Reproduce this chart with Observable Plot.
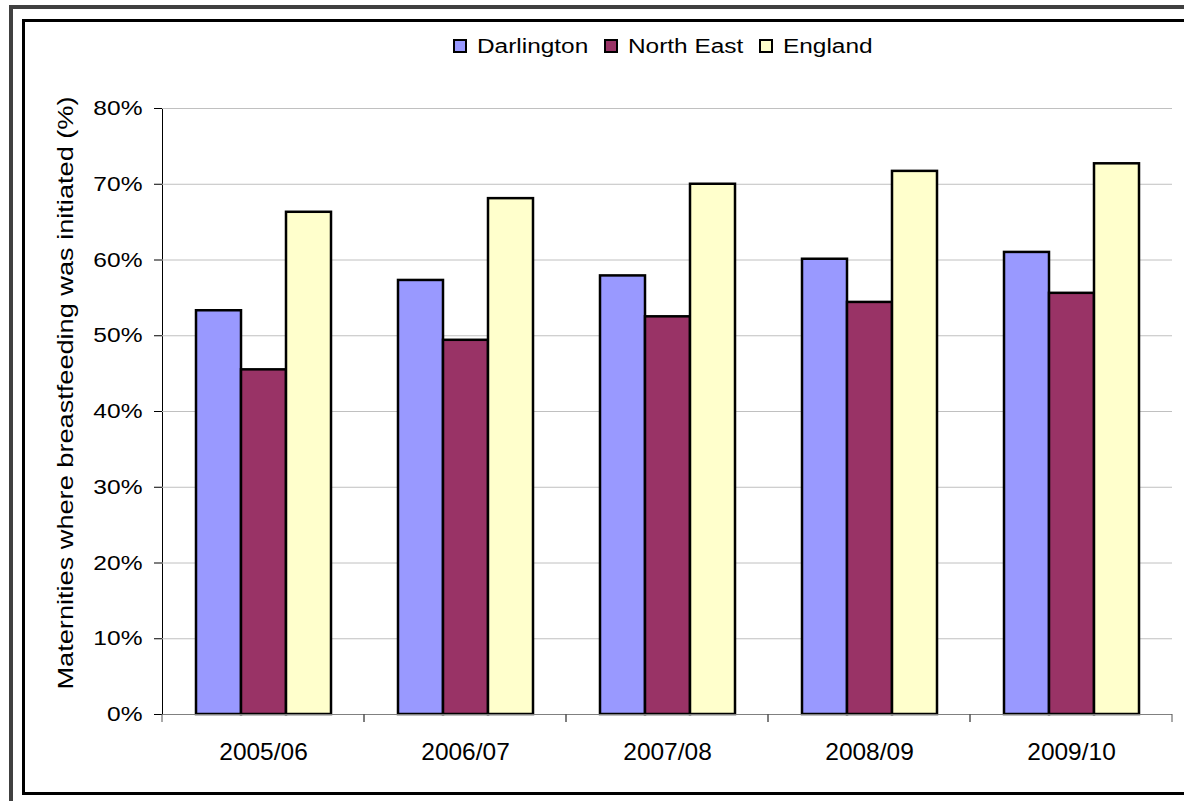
<!DOCTYPE html>
<html>
<head>
<meta charset="utf-8">
<script src="https://cdn.jsdelivr.net/npm/d3@7"></script>
<script src="https://cdn.jsdelivr.net/npm/@observablehq/plot@0.6"></script>
<style>
  html, body { margin: 0; padding: 0; background: #fff; overflow: hidden; }
  body { width: 1184px; height: 801px; position: relative; font-family: "Liberation Sans", Arial, sans-serif; color: #000; }
  #chart { position: absolute; left: 0; top: 0; }
  #chart svg { background: transparent; }
  .frame-outer { position: absolute; left: 9px; top: 5px; width: 1400px; height: 1000px; border-left: 4px solid #404040; border-top: 4px solid #404040; box-sizing: border-box; pointer-events: none; }
  .frame-inner { position: absolute; left: 22px; top: 19px; width: 1400px; height: 776px; border: 3px solid #000; border-right: none; box-sizing: border-box; pointer-events: none; }
  #legend { position: absolute; left: 453px; top: 34px; display: flex; align-items: center; font-size: 20px; line-height: 24px; white-space: nowrap; }
  .item { display: flex; align-items: center; }
  .sw { width: 14px; height: 14px; box-sizing: border-box; border: 2px solid #000; margin-right: 10px; }
  .lbl { display: inline-block; transform-origin: 0 50%; }
  #ytitle { position: absolute; left: 66px; top: 393px; font-size: 22px; line-height: 24px; white-space: nowrap; transform-origin: 50% 50%; }
</style>
</head>
<body>
<div id="chart"></div>
<div id="legend"></div>
<div id="ytitle">Maternities where breastfeeding was initiated (%)</div>
<div class="frame-outer"></div>
<div class="frame-inner"></div>
<script>
const years = ["2005/06", "2006/07", "2007/08", "2008/09", "2009/10"];
const series = ["Darlington", "North East", "England"];
const darlington = [53.3, 57.3, 57.9, 60.1, 61.0];
const northEast = [45.5, 49.4, 52.5, 54.4, 55.6];
const england = [66.3, 68.1, 70.0, 71.7, 72.7];
const colors = ["#9999FF", "#993366", "#FFFFCC"];
const yTicks = [0, 10, 20, 30, 40, 50, 60, 70, 80];
const yTickLabels = ["0%", "10%", "20%", "30%", "40%", "50%", "60%", "70%", "80%"];

const valuesBySeries = [darlington, northEast, england];
const data = years.flatMap((year, i) =>
  series.map((s, j) => ({year, series: s, value: valuesBySeries[j][i]}))
);

// category boundary tick marks on the x axis (drawn in each facet at its edges)
function boundaryTicks(index, scales, values, dimensions) {
  const {marginLeft, marginRight, width, height, marginBottom} = dimensions;
  const y0 = height - marginBottom;
  const g = d3.create("svg:g").attr("stroke", "#555").attr("stroke-width", 1);
  for (const x of [marginLeft, width - marginRight]) {
    g.append("line").attr("x1", x).attr("x2", x).attr("y1", y0).attr("y2", y0 + 8);
  }
  return g.node();
}

const plot = Plot.plot({
  width: 1184,
  height: 801,
  marginLeft: 161,
  marginRight: 12,
  marginTop: 108,
  marginBottom: 87,
  style: {background: "transparent", fontFamily: "'Liberation Sans', Arial, sans-serif", fontSize: "21px", color: "#000", overflow: "visible"},
  fx: {domain: years, padding: 0, label: null, tickSize: 0, tickPadding: 28, axis: "bottom"},
  x: {domain: series, axis: null, paddingInner: 0, paddingOuter: 0.72},
  y: {domain: [0, 80], ticks: yTicks, tickFormat: d => yTickLabels[yTicks.indexOf(d)], tickSize: 8, tickPadding: 12, label: null, line: true},
  color: {domain: series, range: colors},
  marks: [
    Plot.ruleY(yTicks.filter(d => d > 0), {y: d => d, stroke: "#c0c0c0", strokeWidth: 1}),
    Plot.barY(data, {fx: "year", x: "series", y: "value", fill: "series", stroke: "#000", strokeWidth: 2.5, inset: 0}),
    Plot.ruleY([0], {stroke: "#808080", strokeWidth: 1}),
    boundaryTicks
  ]
});
document.getElementById("chart").appendChild(plot);

function stretch(selector, k, size) {
  plot.querySelectorAll(selector).forEach(t => {
    const x = +t.getAttribute("x") || 0, y = +t.getAttribute("y") || 0;
    const tr = t.getAttribute("transform") || "";
    t.setAttribute("transform", `${tr} translate(${x},${y}) scale(${k},1) translate(${-x},${-y})`);
    if (size) t.style.fontSize = size;
  });
}
stretch('g[aria-label="y-axis tick label"] text', 1.17);
stretch('g[aria-label="fx-axis tick label"] text', 1.02, "24px");

// legend
const legend = document.getElementById("legend");
series.forEach((s, j) => {
  const item = document.createElement("div");
  item.className = "item";
  item.style.marginRight = "16px";
  const sw = document.createElement("span");
  sw.className = "sw";
  sw.style.background = colors[j];
  const holder = document.createElement("span");
  const lbl = document.createElement("span");
  lbl.className = "lbl";
  lbl.textContent = s;
  holder.appendChild(lbl);
  item.appendChild(sw);
  item.appendChild(holder);
  legend.appendChild(item);
  const w = lbl.getBoundingClientRect().width;
  lbl.style.transform = "scaleX(1.22)";
  holder.style.display = "inline-block";
  holder.style.width = (w * 1.22) + "px";
});

// y-axis title: stretch along its length to span the reference length
const yt = document.getElementById("ytitle");
const tw = yt.getBoundingClientRect().width;
const th = yt.getBoundingClientRect().height;
const k = 593 / tw;
yt.style.transform = `translate(${-tw / 2}px, ${-th / 2}px) rotate(-90deg) scaleX(${k})`;
</script>
</body>
</html>
